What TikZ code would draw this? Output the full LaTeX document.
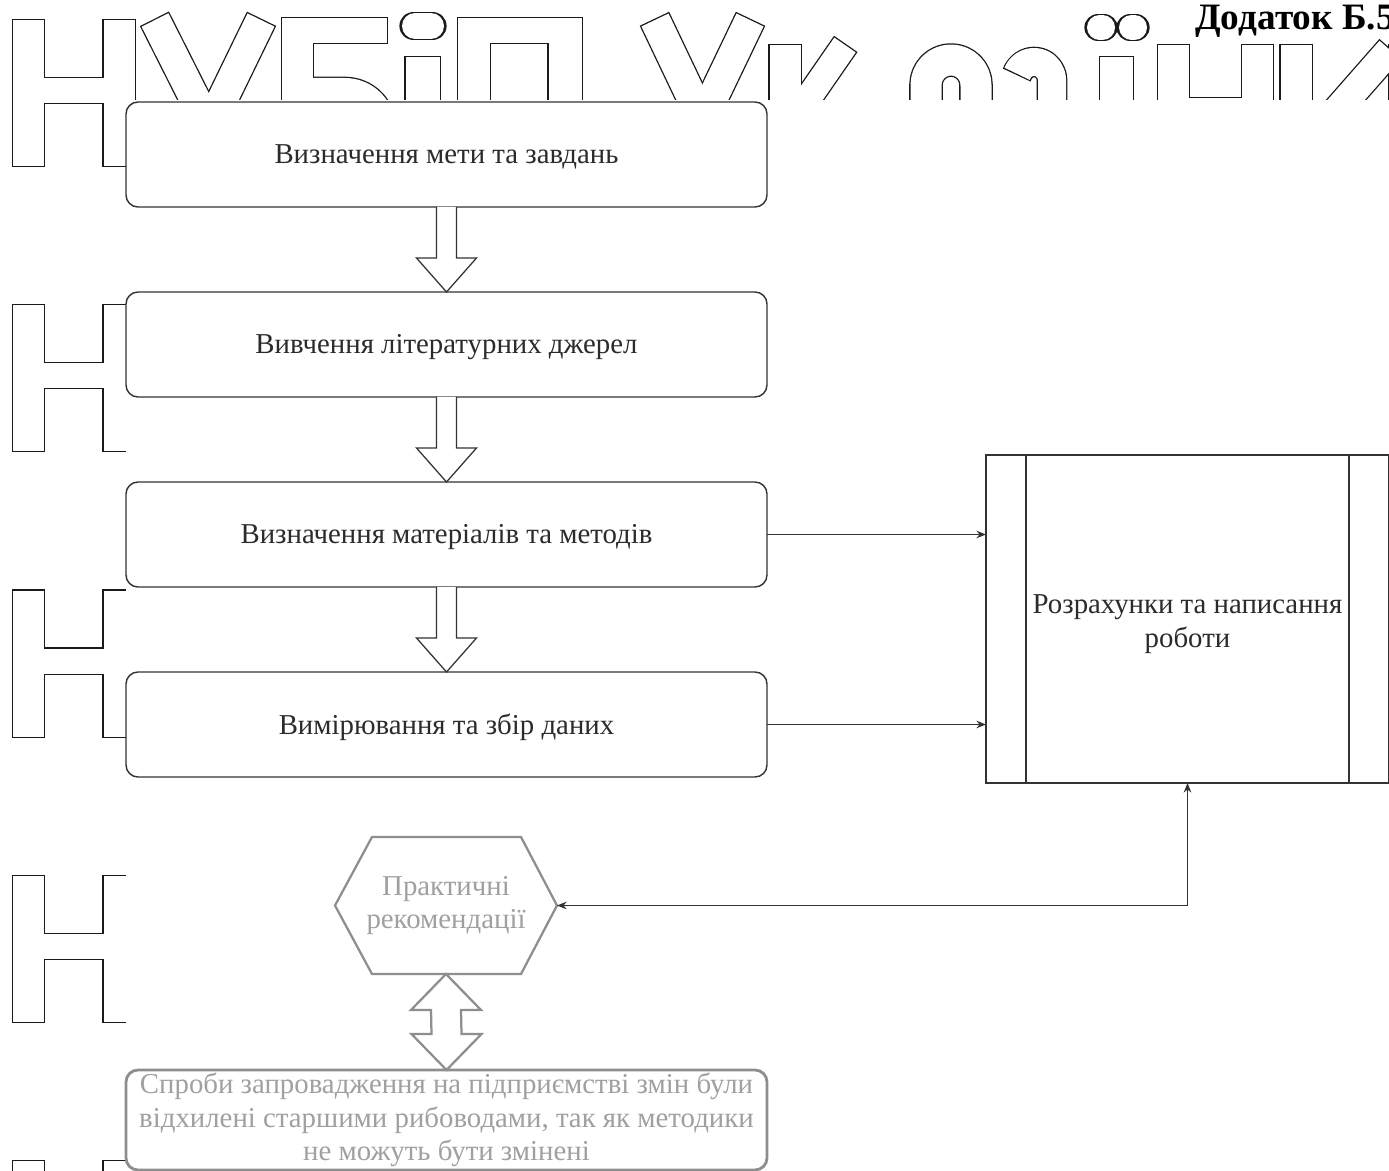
\documentclass[tikz,border=0pt]{standalone}
\usepackage{fontspec}
\setmainfont{Liberation Serif}
\usetikzlibrary{calc,arrows.meta}
\definecolor{boxc}{HTML}{333333}
\definecolor{txtc}{HTML}{2B2B2B}
\definecolor{grayc}{HTML}{8E8E8E}
\definecolor{graytxt}{HTML}{A0A0A0}
\definecolor{wmline}{HTML}{1A1A1A}
\def\wmx{2.6}
\tikzset{
  wmcap/.style={shorten <=-0.33mm, shorten >=-0.33mm},
  wmw/.style={line width={(#1+\wmx)*0.25mm}, wmcap},
  wm/.style={line cap=butt, line join=round},
  procbox/.style={draw=boxc, line width=1pt, rounded corners=3mm, minimum width=160.25mm,
    minimum height=26.25mm, text=txtc, font=\fontsize{20.5}{23.6}\selectfont, inner sep=0pt, outer sep=0pt},
  bigbox/.style={draw=boxc, line width=1.2pt, minimum width=100.75mm, minimum height=82mm,
    text=txtc, font=\fontsize{20.5}{23.6}\selectfont, align=center, inner sep=0pt, outer sep=0pt},
  hexnode/.style={minimum width=55.5mm, minimum height=34.25mm, text=graytxt, align=center,
    font=\fontsize{20.5}{23.6}\selectfont, inner sep=0pt, outer sep=0pt},
  hexline/.style={draw=grayc, line width=1.6pt},
  greybox/.style={draw=grayc, line width=2pt, rounded corners=3mm, minimum width=160.25mm,
    minimum height=25mm, text=graytxt, align=center, font=\fontsize{20.5}{23.8}\selectfont,
    inner sep=0pt, outer sep=0pt},
  hollow/.style={draw=boxc, line width=0.9pt, fill=white, line join=miter},
  hollowgrey/.style={draw=grayc, line width=1.6pt, fill=white},
  conn/.style={draw=boxc, line width=0.8pt},
  tipend/.style={-{Stealth[length=2.4mm,width=1.9mm]}},
  tipboth/.style={{Stealth[length=2.4mm,width=1.9mm]}-{Stealth[length=2.4mm,width=1.9mm]}}
}
\newcommand\lowered[2]{\raisebox{#1}[\height][\depth]{#2}}
\newcommand\wmH[1]{%
  \draw[wmw=31] (28.5,{20+#1}) -- (28.5,{166+#1});
  \draw[wmw=31] (119,{20+#1}) -- (119,{166+#1});
  \draw[wmw=25] (28.5,{90.5+#1}) -- (119,{90.5+#1});}
\newcommand\wmall{%
  \wmH{0}\wmH{285}\wmH{570.7}\wmH{856}\wmH{1141}
  % U
  \draw[wmw=30] (155,20) -- (208,125);
  \draw[wmw=30] (261,20) -- (190,166);
  % B
  \draw[wmw=31] (297.5,18) -- (297.5,166);
  \draw[wmw=25] (297.5,30.5) -- (387,30.5);
  \draw[wmw=25] (297.5,90.5) -- (345,90.5) arc[start angle=-90,end angle=90,radius=38] -- (297.5,166.5);
  % i
  \draw[wmw=26, line cap=round] (415,26) -- (431,26);
  \draw[wmw=34] (422.5,57) -- (422.5,166);
  % P
  \draw[wmw=32] (474,18) -- (474,166);
  \draw[wmw=33] (565,18) -- (565,166);
  \draw[wmw=25] (458,30.5) -- (582,30.5);
  % big U
  \draw[wmw=30] (655,20) -- (705,125);
  \draw[wmw=30] (750,20) -- (680,166);
  % k
  \draw[wmw=31] (785,45) -- (785,166);
  \draw[wmw=26] (800,110) -- (845,45);
  % r
  \draw[wmw=31] (926,170) -- (926,85) arc[start angle=180,end angle=360,radius=25] -- (976,110);
  % a
  \draw[wmw=28] (1017.1,73.8) arc[start angle=200,end angle=360,radius=18] -- (1052,166);
  % yi
  \draw[wmw=33] (1116.5,57) -- (1116.5,166);
  \draw[wmw=25, line cap=round] (1099.5,27.5) -- (1102.5,27.5);
  \draw[wmw=25, line cap=round] (1131.5,27.5) -- (1134.5,27.5);
  % n
  \draw[wmw=31] (1173.5,45) -- (1173.5,166);
  \draw[wmw=31] (1257.5,45) -- (1257.5,166);
  \draw[wmw=25] (1173.5,111) -- (1257.5,111);
  % y
  \draw[wmw=31] (1296,45) -- (1296,166);
  \draw[wmw=31] (1405,45) -- (1405,166);
  \draw[wmw=28] (1311,140) -- (1390,50);
}
\begin{document}
\begin{tikzpicture}[x=0.25mm,y=-0.25mm]
\useasboundingbox (0,0) rectangle (1389,1171);
\fill[white] (0,0) rectangle (1389,1171);
% watermark: dark outline pass, then white fill pass
\begin{scope}[wm, draw=wmline]
  \wmall
\end{scope}
\def\wmx{0}
\tikzset{wmcap/.style={}}
\begin{scope}[wm, draw=white]
  \wmall
\end{scope}
\fill[white] (126,100) rectangle (1389,1171);

% title
\node[anchor=base west, font=\bfseries\fontsize{26.5}{32}\selectfont, text=black, inner sep=0pt] (title) at (1195,30) {Додаток Б.5};

% process boxes
\node[procbox] (b1) at (446.5,154.5) {\lowered{-0.6mm}{Визначення мети та завдань}};
\node[procbox] (b2) at (446.5,344.5) {\lowered{-0.6mm}{Вивчення літературних джерел}};
\node[procbox] (b3) at (446.5,534.5) {\lowered{-0.6mm}{Визначення матеріалів та методів}};
\node[procbox] (b4) at (446.5,724.5) {\lowered{-0.6mm}{Вимірювання та збір даних}};

% hollow arrows
\foreach \a/\b in {b1/b2, b2/b3, b3/b4}{
  \draw[hollow] ($(\a.south)+(-10,0)$) -- ($(\a.south)+(-10,51)$) -- ($(\a.south)+(-30,51)$)
    -- (\b.north) -- ($(\a.south)+(30,51)$) -- ($(\a.south)+(10,51)$) -- ($(\a.south)+(10,0)$);
}

% big box
\node[bigbox] (big) at (1187.5,619) {\lowered{-1.2mm}{\begin{tabular}{@{}c@{}}Розрахунки та написання\\роботи\end{tabular}}};
\draw[boxc, line width=1.2pt] ($(big.north west)+(40,0)$) -- ($(big.south west)+(40,0)$);
\draw[boxc, line width=1.2pt] ($(big.north east)+(-40,0)$) -- ($(big.south east)+(-40,0)$);

\draw[conn, tipend] (b3.east) -- (b3.east -| big.west);
\draw[conn, tipend] (b4.east) -- (b4.east -| big.west);

% hexagon
\node[hexnode] (hex) at (446,905.5) {Практичні\\рекомендації};
\draw[hexline] (hex.west) -- ($(hex.north west)+(37,0)$) -- ($(hex.north east)+(-36,0)$) -- (hex.east)
  -- ($(hex.south east)+(-36,0)$) -- ($(hex.south west)+(37,0)$) -- cycle;

\draw[conn, tipboth] (big.south) |- (hex.east);

% bottom box
\node[greybox] (bot) at (446.5,1120) {Спроби запровадження на підприємстві змін були\\
  відхилені старшими рибоводами, так як методики\\ не можуть бути змінені};

% double hollow arrow
\draw[hollowgrey] (hex.south) -- ($(hex.south)+(35,36)$) -- ($(hex.south)+(15,36)$)
  -- ($(bot.north)+(15,-36)$) -- ($(bot.north)+(35,-36)$) -- (bot.north)
  -- ($(bot.north)+(-35,-36)$) -- ($(bot.north)+(-15,-36)$) -- ($(hex.south)+(-15,36)$)
  -- ($(hex.south)+(-35,36)$) -- cycle;
\end{tikzpicture}
\end{document}
